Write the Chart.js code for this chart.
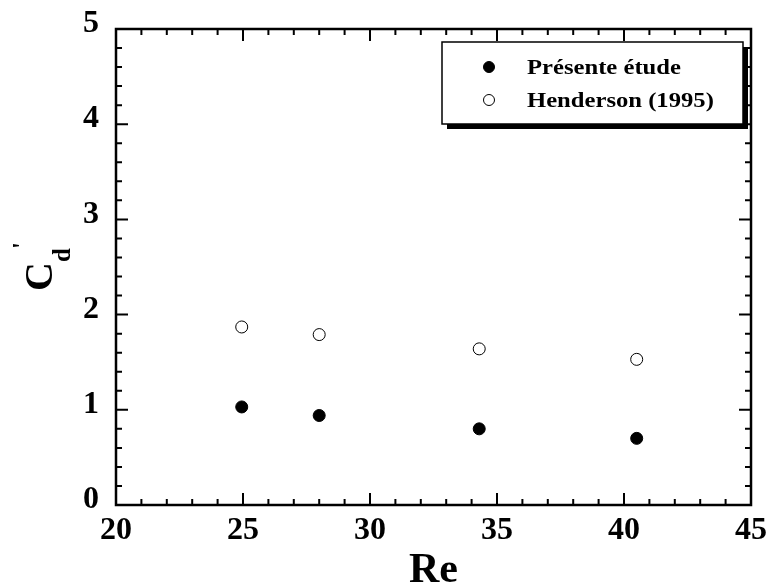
<!DOCTYPE html>
<html>
<head>
<meta charset="utf-8">
<script src="https://cdn.jsdelivr.net/npm/chart.js@4/dist/chart.umd.min.js"></script>
<style>
  html, body { margin: 0; padding: 0; background: #fff; }
  #wrap { width: 768px; height: 586px; }
</style>
</head>
<body>
<div id="wrap"><canvas id="cdChart" width="768" height="586"></canvas></div>
<script>
// --- data ---
const reynolds = [24.95, 28.0, 34.3, 40.5];
const presentStudy = [1.03, 0.94, 0.80, 0.70];
const henderson = [1.87, 1.79, 1.64, 1.53];
const seriesNames = ['Présente étude', 'Henderson (1995)'];

const xTicks = [20, 25, 30, 35, 40, 45];
const yTicks = [0, 1, 2, 3, 4, 5];

const SERIF = "'Liberation Serif', 'Times New Roman', serif";

// inward ticks on all four sides + frame, y title, legend
const framePlugin = {
    id: 'frame',
    afterDatasetsDraw(chart) {
        const ctx = chart.ctx;
        const a = chart.chartArea;
        const xs = chart.scales.x, ys = chart.scales.y;
        ctx.save();
        ctx.strokeStyle = '#000';
        ctx.lineWidth = 2;
        ctx.beginPath();
        // x ticks (minor every 1)
        for (let v = 20; v <= 45; v += 1) {
            const px = xs.getPixelForValue(v);
            const len = v % 5 === 0 ? 12 : 6;
            ctx.moveTo(px, a.bottom); ctx.lineTo(px, a.bottom - len);
            ctx.moveTo(px, a.top); ctx.lineTo(px, a.top + len);
        }
        // y ticks (minor every 0.2)
        for (let i = 0; i <= 25; i++) {
            const py = ys.getPixelForValue(i * 0.2);
            const len = i % 5 === 0 ? 12 : 6;
            ctx.moveTo(a.left, py); ctx.lineTo(a.left + len, py);
            ctx.moveTo(a.right, py); ctx.lineTo(a.right - len, py);
        }
        ctx.stroke();
        ctx.lineWidth = 2.5;
        ctx.strokeRect(a.left, a.top, a.right - a.left, a.bottom - a.top);

        // y axis title: C_d'
        ctx.fillStyle = '#000';
        ctx.translate(52, 291);
        ctx.rotate(-Math.PI / 2);
        ctx.textBaseline = 'alphabetic';
        ctx.textAlign = 'left';
        ctx.font = 'bold 40px ' + SERIF;
        ctx.fillText('C', 0, 0);
        const cw = ctx.measureText('C').width;
        ctx.font = 'bold 25px ' + SERIF;
        ctx.fillText('d', cw, 18);
        ctx.fillText("'", cw + 13, -22);
        ctx.restore();

        // legend box with drop shadow
        const lx = 442, ly = 42, lw = 301, lh = 82;
        ctx.save();
        ctx.fillStyle = '#000';
        ctx.fillRect(lx + 5, ly + 5, lw, lh);
        ctx.fillStyle = '#fff';
        ctx.fillRect(lx, ly, lw, lh);
        ctx.lineWidth = 1.5;
        ctx.strokeStyle = '#000';
        ctx.strokeRect(lx, ly, lw, lh);
        ctx.font = 'bold 22px ' + SERIF;
        ctx.textBaseline = 'middle';
        chart.data.datasets.forEach((ds, i) => {
            const y = 67 + i * 33;
            ctx.beginPath();
            ctx.arc(489, y, ds.pointRadius - 0.5, 0, Math.PI * 2);
            ctx.fillStyle = ds.backgroundColor;
            ctx.fill();
            ctx.lineWidth = ds.borderWidth;
            ctx.strokeStyle = ds.borderColor;
            ctx.stroke();
            ctx.save();
            ctx.translate(527, y);
            ctx.scale(1.12, 1);
            ctx.fillStyle = '#000';
            ctx.fillText(ds.label, 0, 1);
            ctx.restore();
        });
        ctx.restore();
    }
};

const ctx = document.getElementById('cdChart').getContext('2d');
new Chart(ctx, {
    type: 'scatter',
    data: {
        datasets: [
            {
                label: seriesNames[0],
                data: reynolds.map((x, i) => ({ x: x, y: presentStudy[i] })),
                pointRadius: 6,
                backgroundColor: '#000',
                borderColor: '#000',
                borderWidth: 1
            },
            {
                label: seriesNames[1],
                data: reynolds.map((x, i) => ({ x: x, y: henderson[i] })),
                pointRadius: 6,
                backgroundColor: '#fff',
                borderColor: '#000',
                borderWidth: 1
            }
        ]
    },
    options: {
        responsive: false,
        animation: false,
        events: [],
        layout: { padding: { top: 29, right: 17, bottom: 0, left: 0 } },
        plugins: {
            legend: { display: false },
            tooltip: { enabled: false }
        },
        scales: {
            x: {
                type: 'linear',
                min: 20, max: 45,
                afterBuildTicks: s => { s.ticks = xTicks.map(v => ({ value: v })); },
                afterFit: s => { s.height = 81; s.paddingLeft = 0; s.paddingRight = 0; },
                grid: { display: false, drawTicks: false },
                border: { display: false },
                ticks: { color: '#000', padding: 7, font: { family: SERIF, size: 32, weight: 'bold' }, maxRotation: 0 },
                title: {
                    display: true, text: 'Re', color: '#000',
                    font: { family: SERIF, size: 42, weight: 'bold', lineHeight: 0.7 },
                    padding: { top: 0, bottom: 0 }
                }
            },
            y: {
                type: 'linear',
                min: 0, max: 5,
                afterBuildTicks: s => { s.ticks = yTicks.map(v => ({ value: v })); },
                afterFit: s => { s.width = 116; s.paddingTop = 0; s.paddingBottom = 0; },
                grid: { display: false, drawTicks: false },
                border: { display: false },
                ticks: { color: '#000', padding: 17, labelOffset: -5, font: { family: SERIF, size: 32, weight: 'bold' } }
            }
        }
    },
    plugins: [framePlugin]
});
</script>
</body>
</html>
